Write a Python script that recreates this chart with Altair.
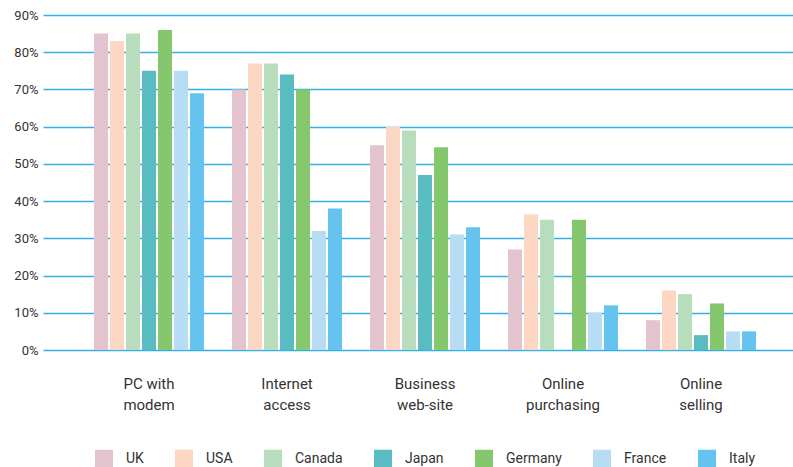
import altair as alt
import pandas as pd

categories = ["PC with|modem", "Internet|access", "Business|web-site", "Online|purchasing", "Online|selling"]
countries = ["UK", "USA", "Canada", "Japan", "Germany", "France", "Italy"]
colors = ["#e3c3cd", "#fbd7c4", "#b8ddbd", "#58bcc1", "#84c76c", "#b7ddf5", "#65c3ef"]

uk = [85, 70, 55, 27, 8]
usa = [83, 77, 60, 36.5, 16]
canada = [85, 77, 59, 35, 15]
japan = [75, 74, 47, None, 4]
germany = [86, 70, 54.5, 35, 12.5]
france = [75, 32, 31, 10, 5]
italy = [69, 38, 33, 12, 5]

series = [uk, usa, canada, japan, germany, france, italy]
rows = []
for c, vals in zip(countries, series):
    for cat, v in zip(categories, vals):
        if v is not None:
            rows.append({"category": cat, "country": c, "value": v / 100})
df = pd.DataFrame(rows)

FONT = "Roboto"

chart = alt.Chart(df).mark_bar().encode(
    x=alt.X("category:N", sort=categories,
            scale=alt.Scale(paddingInner=0, paddingOuter=0.2174, align=0.617),
            axis=alt.Axis(title=None, labelAngle=0, labelExpr="split(datum.label, '|')",
                          labelLineHeight=21, labelPadding=26, labelFontSize=15,
                          labelColor="#333333", labelFont=FONT, domain=False, ticks=False,
                          grid=False)),
    xOffset=alt.XOffset("country:N", sort=countries,
                        scale=alt.Scale(paddingInner=0.125, paddingOuter=0.875)),
    y=alt.Y("value:Q", scale=alt.Scale(domain=[0, 0.9]),
            axis=alt.Axis(title=None, format=".0%", values=[i / 10 for i in range(10)],
                          labelFontSize=13, labelColor="#333333", labelFont=FONT,
                          labelPadding=5, domain=False, ticks=False, grid=True,
                          gridColor="#33b1e5", gridWidth=1.5)),
    color=alt.Color("country:N", sort=countries,
                    scale=alt.Scale(domain=countries, range=colors),
                    legend=alt.Legend(title=None, orient="none", direction="horizontal",
                                      legendX=52, legendY=435,
                                      symbolType="M-1,-1.056H1V1.056H-1Z",
                                      symbolSize=324, symbolStrokeWidth=0,
                                      labelOffset=13, columnPadding=31,
                                      labelFontSize=14, labelColor="#333333",
                                      labelFont=FONT, padding=0)),
).properties(
    width=750, height=335,
    padding={"left": 43, "top": 15, "right": 0, "bottom": 117},
    autosize=alt.AutoSizeParams(type="none"),
).configure_view(stroke=None)

chart.save("out.html", embed_options={"renderer": "svg", "actions": False})
